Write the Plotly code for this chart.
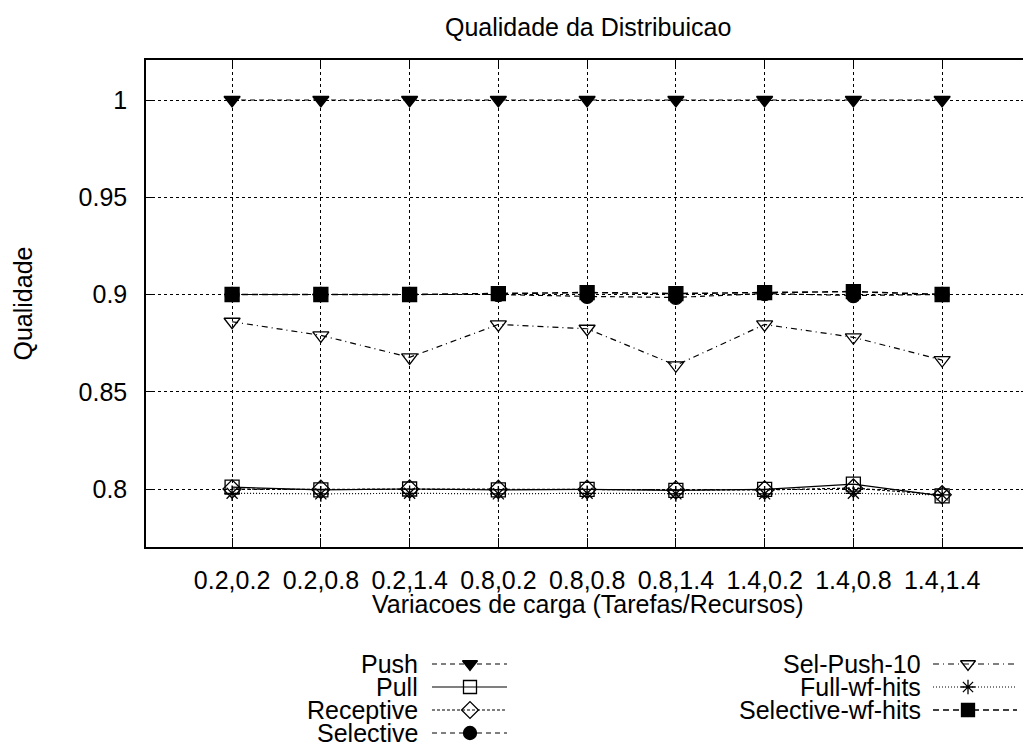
import plotly.graph_objects as go

categories = ["0.2,0.2", "0.2,0.8", "0.2,1.4", "0.8,0.2", "0.8,0.8",
              "0.8,1.4", "1.4,0.2", "1.4,0.8", "1.4,1.4"]
push = [1.0, 1.0, 1.0, 1.0, 1.0, 1.0, 1.0, 1.0, 1.0]
pull = [0.801, 0.7995, 0.8, 0.7995, 0.7998, 0.7993, 0.7998, 0.8025, 0.7965]
receptive = [0.8, 0.7998, 0.8, 0.7998, 0.7998, 0.7995, 0.7995, 0.8005, 0.797]
selective = [0.9, 0.9, 0.9, 0.9, 0.899, 0.8985, 0.9005, 0.8995, 0.9]
sel_push_10 = [0.886, 0.879, 0.8677, 0.8846, 0.8824, 0.8636, 0.8846, 0.878, 0.8663]
full_wf_hits = [0.7978, 0.7975, 0.7978, 0.7975, 0.7978, 0.7975, 0.7975, 0.7978, 0.797]
selective_wf_hits = [0.9, 0.9, 0.9, 0.9005, 0.901, 0.9005, 0.901, 0.9015, 0.9]

yticks = [0.8, 0.85, 0.9, 0.95, 1.0]
ytick_text = ["0.8", "0.85", "0.9", "0.95", "1"]

series = [
    ("Push", push, "5px,4px", "triangle-down", "black"),
    ("Pull", pull, "solid", "square-open", "black"),
    ("Receptive", receptive, "3px,2px", "diamond-open", "black"),
    ("Selective", selective, "5px,4px", "circle", "black"),
    ("Sel-Push-10", sel_push_10, "6px,4px,1px,4px", "triangle-down-open", "black"),
    ("Full-wf-hits", full_wf_hits, "1px,2px", "asterisk-open", "black"),
    ("Selective-wf-hits", selective_wf_hits, "6px,4px", "square", "black"),
]

# page body has an 8px margin: lay the figure out in window pixels minus it
OFF = 8
WIN_W, WIN_H = 1031, 752
W, H = WIN_W - OFF, WIN_H - OFF


def px(v):
    return v - OFF


L, R, T, B = px(146), px(1030), px(60), px(547)
LEG_TOP = px(640)
FONT = "Liberation Sans, Arial, sans-serif"
FS = 25

x = list(range(len(categories)))
fig = go.Figure()
for name, vals, dash, sym, col in series:
    size = 14 if "asterisk" not in sym else 13
    fig.add_trace(go.Scatter(
        x=x, y=vals, mode="lines+markers", name=name,
        line=dict(color=col, width=1.2 if name != "Selective-wf-hits" else 1.6, dash=dash),
        marker=dict(symbol=sym, size=size, color=col,
                    line=dict(color=col, width=1.3)),
        xaxis="x", yaxis="y", showlegend=False,
    ))

# legend samples drawn on a pixel-space overlay axis (below the plot)
leg_rows = [
    (420, 432, 470, 507, 664),
    (420, 432, 470, 507, 687),
    (420, 432, 470, 507, 710),
    (420, 432, 470, 507, 733),
    (923, 933, 968, 1017, 664),
    (923, 933, 968, 1017, 687),
    (923, 933, 968, 1017, 710),
]
annotations = []
for (name, vals, dash, sym, col), (tx, x0, xm, x1, yy) in zip(series, leg_rows):
    fig.add_trace(go.Scatter(
        x=[px(x0), px(x1)], y=[px(yy), px(yy)], mode="lines",
        line=dict(color=col, width=1.2 if name != "Selective-wf-hits" else 1.6, dash=dash),
        xaxis="x2", yaxis="y2", showlegend=False, hoverinfo="skip"))
    fig.add_trace(go.Scatter(
        x=[px(xm)], y=[px(yy)], mode="markers",
        marker=dict(symbol=sym, size=13 if "asterisk" not in sym else 12, color=col,
                    line=dict(color=col, width=1.3)),
        xaxis="x2", yaxis="y2", showlegend=False, hoverinfo="skip"))
    annotations.append(dict(x=px(tx), y=px(yy), xref="x2", yref="y2", text=name,
                            showarrow=False, xanchor="right", yanchor="middle",
                            font=dict(family=FONT, size=FS, color="black")))

annotations += [
    dict(x=(L + R) / 2 / W, y=1 - px(27) / H, xref="paper", yref="paper",
         text="Qualidade da Distribuicao", showarrow=False,
         xanchor="center", yanchor="middle",
         font=dict(family=FONT, size=FS, color="black")),
    dict(x=(L + R) / 2 / W, y=1 - px(604) / H, xref="paper", yref="paper",
         text="Variacoes de carga (Tarefas/Recursos)", showarrow=False,
         xanchor="center", yanchor="middle",
         font=dict(family=FONT, size=FS, color="black")),
    dict(x=px(22) / W, y=1 - (T + B) / 2 / H, xref="paper", yref="paper",
         text="Qualidade", showarrow=False, textangle=-90,
         xanchor="center", yanchor="middle",
         font=dict(family=FONT, size=FS, color="black")),
]

axis_common = dict(
    showline=True, linecolor="black", linewidth=1.5, mirror="allticks",
    ticks="inside", ticklen=9, tickcolor="black", tickwidth=1,
    showgrid=True, gridcolor="black", gridwidth=1, griddash="dot",
    zeroline=False, automargin=False,
    tickfont=dict(family=FONT, size=FS, color="black"),
)

fig.update_layout(
    width=W, height=H,
    margin=dict(l=0, r=0, t=0, b=0),
    paper_bgcolor="white", plot_bgcolor="rgba(0,0,0,0)",
    xaxis=dict(domain=[L / W, min(1.0, R / W)], range=[-0.97, 8.99],
               tickvals=x, ticktext=categories, ticklabelstandoff=10,
               **axis_common),
    yaxis=dict(domain=[1 - B / H, 1 - T / H], range=[0.77018, 1.02057],
               tickvals=yticks, ticktext=ytick_text, ticklabelstandoff=12,
               **axis_common),
    xaxis2=dict(domain=[0, 1], range=[0, W], visible=False, anchor="y2",
                fixedrange=True),
    yaxis2=dict(domain=[0, 1 - LEG_TOP / H], range=[H, LEG_TOP], visible=False,
                anchor="x2", fixedrange=True),
    annotations=annotations,
    showlegend=False,
)

fig.write_html("out.html")
